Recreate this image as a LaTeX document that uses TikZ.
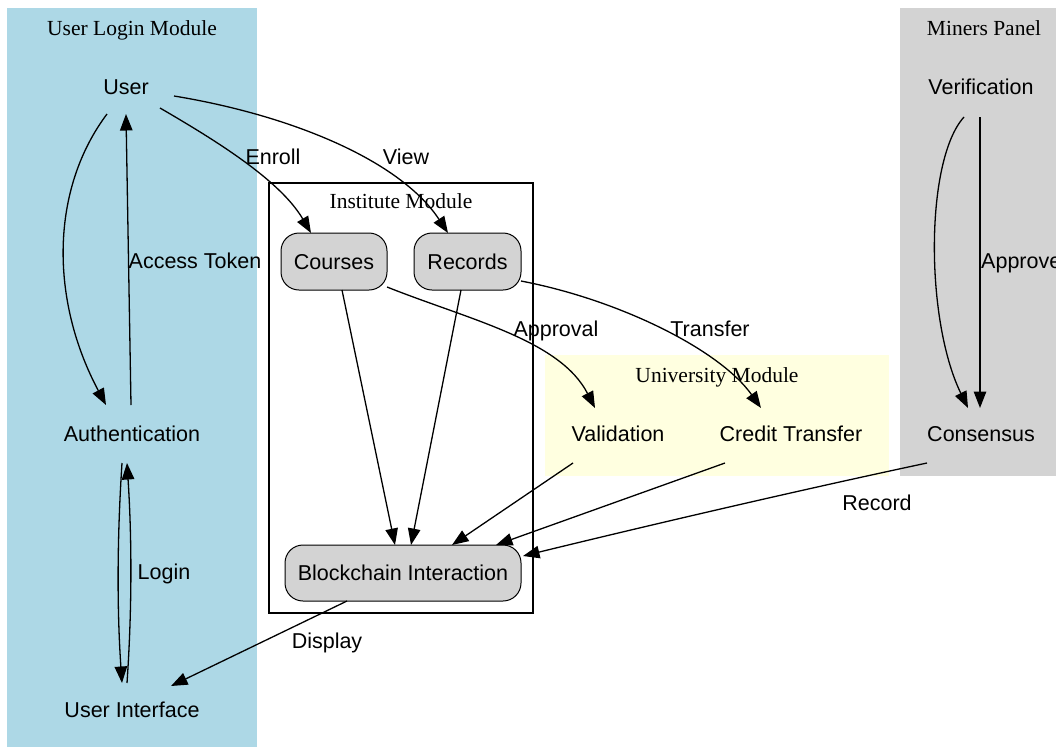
\documentclass[tikz,border=0pt]{standalone}
\usepackage{fontspec}
\setmainfont{Liberation Serif}
\newfontfamily\arialfont{Liberation Sans}
\usetikzlibrary{arrows.meta}
\definecolor{clblue}{HTML}{ADD8E6}
\definecolor{clyellow}{HTML}{FFFFE0}
\definecolor{clgray}{HTML}{D3D3D3}
\begin{document}
\begin{tikzpicture}[x=1pt,y=-1pt,
  txt/.style={font=\arialfont\fontsize{21.5}{26}\selectfont, inner sep=0pt, text height=15.4pt, text depth=0pt},
  ttl/.style={font=\fontsize{21.5}{26}\selectfont, inner sep=0pt, text height=14.2pt, text depth=0pt},
  rbox/.style={txt, draw=black, line width=1pt, fill=clgray, rounded corners=18pt},
  conn/.style={line width=1.3pt, -{Triangle[length=16.5pt,width=12.5pt]}},
  lbl/.style={txt}]
\useasboundingbox (0,0) rectangle (1056,747);
% clusters
\fill[clblue] (7,8) rectangle (257,747);
\fill[clgray] (900,8) rectangle (1056,476);
\fill[clyellow] (545,355) rectangle (889,476);
\draw[line width=1.3pt] (269,183) rectangle (533,613);
\node[ttl] (t1) at (132,28) {User Login Module};
\node[ttl] (t2) at (984,28) {Miners Panel};
\node[ttl] (t3) at (401,201) {Institute Module};
\node[ttl] (t4) at (717,375) {University Module};
% nodes
\node[txt] (user) at (126,87) {User};
\node[txt] (auth) at (132,434) {Authentication};
\node[txt] (ui) at (132,710) {User Interface};
\node[rbox, minimum width=106pt, minimum height=57pt] (courses) at (334,261.5) {Courses};
\node[rbox, minimum width=107pt, minimum height=57pt] (records) at (467.5,261.5) {Records};
\node[rbox, minimum width=236pt, minimum height=56pt] (bc) at (403,573) {Blockchain Interaction};
\node[txt] (val) at (618,434) {Validation};
\node[txt] (ct) at (791,434) {Credit Transfer};
\node[txt] (ver) at (981,87) {Verification};
\node[txt] (cons) at (981,434) {Consensus};
% edges
\draw[conn] ([shift={(-19,27)}]user.center) .. controls (50,190) and (50,300) .. ([shift={(-26,-29)}]auth.center);
\draw[conn] ([shift={(-1,-29)}]auth.center) -- ([shift={(0,27)}]user.center);
\draw[conn] ([shift={(-10,29)}]auth.center) .. controls (117,540) and (117,610) .. ([shift={(-10,-27)}]ui.center);
\draw[conn] ([shift={(-5,-27)}]ui.center) .. controls (132,610) and (132,540) .. ([shift={(-5,29)}]auth.center);
\draw[conn] ([shift={(34,21)}]user.center) .. controls (215,140) and (280,180) .. ([shift={(-23,-28.5)}]courses.center);
\draw[conn] ([shift={(48,9)}]user.center) .. controls (290,115) and (400,160) .. ([shift={(-19.5,-28.5)}]records.center);
\draw[conn] ([shift={(8,28.5)}]courses.center) -- ([shift={(-8,-28)}]bc.center);
\draw[conn] ([shift={(-6.5,28.5)}]records.center) -- ([shift={(8,-28)}]bc.center);
\draw[conn] ([shift={(53,25.5)}]courses.center) .. controls (470,320) and (560,340) .. ([shift={(-23,-26)}]val.center);
\draw[conn] ([shift={(53.5,19.5)}]records.center) .. controls (620,300) and (720,350) .. ([shift={(-30,-26)}]ct.center);
\draw[conn] ([shift={(-45,29)}]val.center) -- ([shift={(49,-28)}]bc.center);
\draw[conn] ([shift={(-66,29)}]ct.center) -- ([shift={(93,-28)}]bc.center);
\draw[conn] ([shift={(-54,29)}]cons.center) .. controls (800,490) and (650,525) .. ([shift={(120,-17)}]bc.center);
\draw[conn] ([shift={(-56,28)}]bc.center) -- ([shift={(39,-24)}]ui.center);
\draw[conn] ([shift={(-17,30)}]ver.center) .. controls (925,160) and (925,320) .. ([shift={(-13,-26)}]cons.center);
\draw[conn] ([shift={(-1,30)}]ver.center) -- ([shift={(-1,-26)}]cons.center);
% labels
\node[lbl] (l1) at (195,261) {Access Token};
\node[lbl] (l2) at (164,572) {Login};
\node[lbl] (l3) at (273,157) {Enroll};
\node[lbl] (l4) at (406,157) {View};
\node[lbl] (l5) at (556,329) {Approval};
\node[lbl] (l6) at (710,329) {Transfer};
\node[lbl] (l7) at (877,503) {Record};
\node[lbl] (l8) at (327,641) {Display};
\node[lbl, anchor=west] (l9) at (981,261) {Approve};
\end{tikzpicture}
\end{document}
